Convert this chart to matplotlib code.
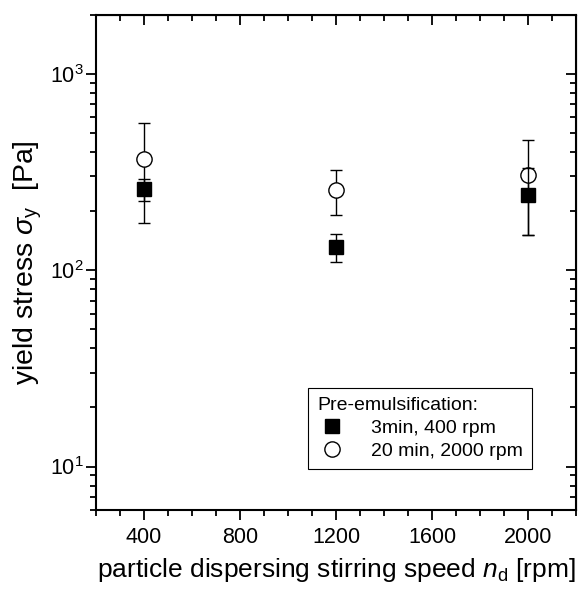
import matplotlib
matplotlib.use("Agg")
import matplotlib.pyplot as plt
from matplotlib.ticker import LogLocator, MultipleLocator, FixedLocator, NullFormatter
from matplotlib.lines import Line2D
import numpy as np

plt.rcParams['font.family'] = ['Liberation Sans', 'DejaVu Sans']
plt.rcParams['mathtext.fontset'] = 'custom'
plt.rcParams['mathtext.rm'] = 'Liberation Sans'
plt.rcParams['mathtext.it'] = 'Liberation Sans:italic'

speed = [400, 1200, 2000]
short_vals = [259, 131, 241]
short_err = [34, 21, 90]
long_vals = [368, 256, 306]
long_err = [195, 66, 155]
label_short = "3min, 400 rpm"
label_long = "20 min, 2000 rpm"

fig = plt.figure(figsize=(5.79, 5.89), dpi=100)
ax = fig.add_axes([0.166, 0.134, 0.829, 0.841])

ax.errorbar(speed, long_vals, yerr=long_err, fmt='o', mfc='white', mec='black',
            ms=11, mew=1.0, ecolor='black', elinewidth=1.0, capsize=4, capthick=1.0,
            zorder=2)
ax.errorbar(speed, short_vals, yerr=short_err, fmt='s', mfc='black', mec='black',
            ms=10, ecolor='black', elinewidth=1.0, capsize=4, capthick=1.0,
            zorder=3)

ax.set_yscale('log')
ax.set_xlim(200, 2200)
ax.set_ylim(6, 2000)
xt = [400, 800, 1200, 1600, 2000]
ax.xaxis.set_major_locator(FixedLocator(xt))
ax.xaxis.set_minor_locator(MultipleLocator(100))
ax.yaxis.set_minor_locator(LogLocator(base=10, subs=np.arange(2, 10), numticks=10))
ax.yaxis.set_minor_formatter(NullFormatter())
ax.set_yticks([10, 100, 1000])
ax.set_yticklabels([r'$10^{1}$', r'$10^{2}$', r'$10^{3}$'])

for s in ax.spines.values():
    s.set_linewidth(1.5)
ax.tick_params(axis='both', which='major', length=7, width=1.3, labelsize=15.5, direction='out')
ax.tick_params(axis='both', which='minor', length=4, width=1.3, direction='out')
ax.tick_params(axis='x', pad=5)
ax.tick_params(axis='y', pad=2)

sx = ax.secondary_xaxis('top')
sx.set_xticks(xt)
sx.xaxis.set_minor_locator(MultipleLocator(100))
sx.tick_params(which='major', direction='in', length=7, width=1.3, labeltop=False)
sx.tick_params(which='minor', direction='in', length=4, width=1.3)
sx.set_xticklabels([])
sy = ax.secondary_yaxis('right')
sy.yaxis.set_major_locator(FixedLocator([10, 100, 1000]))
sy.yaxis.set_minor_locator(LogLocator(base=10, subs=np.arange(2, 10), numticks=10))
sy.tick_params(which='major', direction='in', length=7, width=1.3, labelright=False)
sy.tick_params(which='minor', direction='in', length=4, width=1.3)
sy.yaxis.set_minor_formatter(NullFormatter())
sy.set_yticklabels([])

ax.set_xlabel(r'particle dispersing stirring speed $\mathit{n}_{\mathrm{d}}$ [rpm]', fontsize=19, labelpad=6)
ax.set_ylabel(r'yield stress $\mathit{\sigma}_{\mathrm{y}}$  [Pa]', fontsize=20.5, labelpad=4)

handles = [
    Line2D([], [], ls='none', marker='s', mfc='black', mec='black', ms=10),
    Line2D([], [], ls='none', marker='o', mfc='white', mec='black', ms=11, mew=1.0),
]
leg = ax.legend(handles, [label_short, label_long], title='Pre-emulsification:', loc='lower right',
                bbox_to_anchor=(0.908, 0.083), fontsize=14, title_fontsize=14,
                frameon=True, fancybox=False, edgecolor='black', framealpha=1,
                handletextpad=1.2, handlelength=1.6, borderpad=0.45, labelspacing=0.28,
                borderaxespad=0)
leg._legend_box.align = 'left'
leg.get_frame().set_linewidth(0.8)

fig.savefig('out.png', dpi=100)
